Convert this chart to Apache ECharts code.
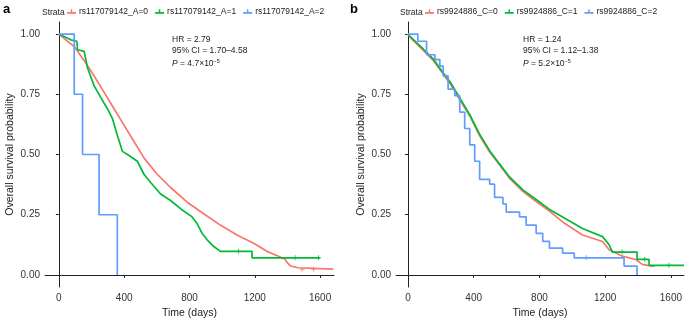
<!DOCTYPE html>
<html>
<head>
<meta charset="utf-8">
<script src="https://cdn.jsdelivr.net/npm/echarts@6/dist/echarts.min.js"></script>
<style>
  html, body { margin: 0; padding: 0; background: #fff; }
  #chart { width: 685px; height: 324px; }
</style>
</head>
<body>
<div id="chart"></div>
<script>
// panel a : rs117079142
var aNames = ['rs117079142_A=0', 'rs117079142_A=1', 'rs117079142_A=2'];
var aT0 = [0, 12, 94, 165, 216, 277, 338, 399, 460, 521, 602, 684, 786, 887, 989, 1091, 1193, 1274, 1345, 1385, 1400, 1420, 1465, 1475, 1680];
var aS0 = [1.00, 0.996, 0.948, 0.88, 0.826, 0.758, 0.69, 0.622, 0.554, 0.486, 0.418, 0.363, 0.302, 0.254, 0.207, 0.166, 0.132, 0.098, 0.078, 0.065, 0.05, 0.037, 0.03, 0.024, 0.024];
var aT1 = [0, 73, 110, 114, 155, 175, 216, 256, 297, 328, 358, 389, 420, 481, 521, 562, 623, 684, 745, 816, 847, 877, 908, 949, 989, 1183, 1183, 1600];
var aS1 = [1.00, 0.976, 0.97, 0.935, 0.928, 0.86, 0.785, 0.737, 0.69, 0.649, 0.58, 0.513, 0.50, 0.472, 0.418, 0.384, 0.336, 0.309, 0.275, 0.241, 0.213, 0.173, 0.146, 0.118, 0.098, 0.098, 0.071, 0.071];
var aT2 = [0, 94, 145, 246, 358];
var aS2 = [1.00, 0.75, 0.50, 0.25, 0.00];
// censored marks visible on the flat parts
var aCensT0 = [1490, 1560];
var aCensS0 = [0.024, 0.024];
var aCensT1 = [1100, 1447, 1590];
var aCensS1 = [0.098, 0.071, 0.071];

// panel b : rs9924886
var bNames = ['rs9924886_C=0', 'rs9924886_C=1', 'rs9924886_C=2'];
var bT0 = [0, 12, 93, 153, 204, 255, 315, 376, 436, 497, 558, 618, 699, 780, 861, 941, 1062, 1184, 1224, 1265, 1305, 1386, 1426, 1485, 1500];
var bS0 = [1.00, 0.987, 0.932, 0.891, 0.843, 0.795, 0.727, 0.66, 0.578, 0.51, 0.456, 0.401, 0.347, 0.305, 0.265, 0.22, 0.166, 0.139, 0.105, 0.091, 0.078, 0.064, 0.044, 0.037, 0.037];
var bT1 = [0, 12, 93, 153, 204, 255, 315, 376, 436, 497, 558, 618, 699, 780, 861, 941, 1062, 1184, 1224, 1244, 1394, 1394, 1467, 1467, 1680];
var bS1 = [1.00, 0.99, 0.938, 0.897, 0.849, 0.803, 0.735, 0.665, 0.584, 0.516, 0.46, 0.407, 0.353, 0.313, 0.272, 0.241, 0.193, 0.159, 0.125, 0.095, 0.095, 0.065, 0.065, 0.04, 0.04];
var bT2 = [0, 60, 113, 164, 194, 214, 244, 285, 315, 345, 376, 406, 436, 497, 527, 578, 598, 679, 719, 780, 820, 861, 941, 1012, 1315, 1394];
var bS2 = [1.00, 0.97, 0.914, 0.894, 0.867, 0.826, 0.771, 0.744, 0.676, 0.608, 0.54, 0.472, 0.397, 0.377, 0.322, 0.295, 0.261, 0.241, 0.207, 0.173, 0.139, 0.111, 0.091, 0.071, 0.037, 0.00];
var bCensT1 = [1303, 1440, 1588];
var bCensS1 = [0.095, 0.065, 0.04];
var bCensT2 = [1085];
var bCensS2 = [0.071];

var xTicks = [0, 400, 800, 1200, 1600];
var yTicks = [0, 0.25, 0.5, 0.75, 1];
var colors = ['#F8766D', '#00BA38', '#619CFF'];
var font = 'Liberation Sans';

function pairs(t, s) {
    var out = [];
    for (var i = 0; i < t.length; i++) out.push([t[i], s[i]]);
    return out;
}

function xAxisFor(idx, min, max) {
    return {
        gridIndex: idx, type: 'value', min: min, max: max,
        name: 'Time (days)', nameLocation: 'middle', nameGap: 21,
        nameTextStyle: { color: '#222', fontSize: 10.5, fontFamily: font },
        axisLine: { show: true, lineStyle: { color: '#222', width: 1 } },
        axisTick: { show: true, length: 3, lineStyle: { color: '#222' }, customValues: xTicks },
        axisLabel: { color: '#333', fontSize: 10, fontFamily: font, margin: 6, customValues: xTicks,
            formatter: function (v) { return String(v); } },
        splitLine: { show: false }
    };
}

function yAxisFor(idx) {
    return {
        gridIndex: idx, type: 'value', min: -0.05, max: 1.05,
        name: 'Overall survival probability', nameLocation: 'middle', nameGap: 29,
        nameTextStyle: { color: '#222', fontSize: 10.5, fontFamily: font },
        axisLine: { show: true, lineStyle: { color: '#222', width: 1 } },
        axisTick: { show: true, length: 3, lineStyle: { color: '#222' }, customValues: yTicks },
        axisLabel: { color: '#333', fontSize: 10, fontFamily: font, margin: 5, customValues: yTicks,
            formatter: function (v) { return v.toFixed(2); } },
        splitLine: { show: false }
    };
}

function km(name, idx, t, s, color, step) {
    return {
        name: name, type: 'line', xAxisIndex: idx, yAxisIndex: idx,
        step: step, symbol: 'none', data: pairs(t, s),
        lineStyle: { color: color, width: 1.7 }, itemStyle: { color: color },
        animation: false
    };
}

var plus = 'path://M4,0H6V10H4Z M0,4H10V6H0Z';
function cens(name, idx, t, s, color) {
    return {
        name: name, type: 'scatter', xAxisIndex: idx, yAxisIndex: idx,
        symbol: plus, symbolSize: 5, data: pairs(t, s),
        itemStyle: { color: color }, silent: true, animation: false
    };
}

var legendIcon = 'path://M0,4H10V6H0Z M4.2,1H5.8V6H4.2Z';
function legendFor(names, left) {
    return {
        left: left, top: 2, itemWidth: 9, itemHeight: 6, itemGap: 7,
        icon: legendIcon, data: names,
        textStyle: { color: '#222', fontSize: 8.5, fontFamily: font, padding: [0, 0, 0, -2] }
    };
}

function statText(x, hr, ci, p) {
    var st = { fontSize: 8.5, fontFamily: font, fill: '#222' };
    return [
        { type: 'text', left: x, top: 35, style: Object.assign({ text: 'HR = ' + hr }, st) },
        { type: 'text', left: x, top: 46, style: Object.assign({ text: '95% CI = ' + ci }, st) },
        { type: 'text', left: x, top: 58, style: {
            text: '{i|P} = ' + p + '{s|−5}', fontSize: 8.5, fontFamily: font, fill: '#222',
            rich: { i: { fontStyle: 'italic', fontSize: 8.5, fontFamily: font },
                    s: { fontSize: 5.5, verticalAlign: 'top', padding: [0, 0, 5, 0], fontFamily: font } } } }
    ];
}

var chart = echarts.init(document.getElementById('chart'), null, { renderer: 'canvas' });
var option = {
    backgroundColor: '#fff',
    animation: false,
    grid: [
        { left: 45, top: 22, width: 289, height: 270 },
        { left: 396, top: 22, width: 289, height: 270 }
    ],
    xAxis: [xAxisFor(0, -85, 1685), xAxisFor(1, -73, 1680)],
    yAxis: [yAxisFor(0), yAxisFor(1)],
    legend: [legendFor(aNames, 62), legendFor(bNames, 420)],
    graphic: [
        { type: 'text', left: 3, top: 3, style: { text: 'a', fontSize: 13, fontWeight: 'bold', fontFamily: font, fill: '#000' } },
        { type: 'text', left: 350, top: 3, style: { text: 'b', fontSize: 13, fontWeight: 'bold', fontFamily: font, fill: '#000' } },
        { type: 'text', left: 42, top: 8, style: { text: 'Strata', fontSize: 8.5, fontFamily: font, fill: '#222' } },
        { type: 'text', left: 400, top: 8, style: { text: 'Strata', fontSize: 8.5, fontFamily: font, fill: '#222' } }
    ].concat(statText(172, '2.79', '1.70–4.58', '4.7×10'), statText(523, '1.24', '1.12–1.38', '5.2×10')),
    series: [
        km(aNames[0], 0, aT0, aS0, colors[0], false),
        km(aNames[1], 0, aT1, aS1, colors[1], false),
        km(aNames[2], 0, aT2, aS2, colors[2], 'end'),
        cens(aNames[0], 0, aCensT0, aCensS0, colors[0]),
        cens(aNames[1], 0, aCensT1, aCensS1, colors[1]),
        km(bNames[0], 1, bT0, bS0, colors[0], false),
        km(bNames[1], 1, bT1, bS1, colors[1], false),
        km(bNames[2], 1, bT2, bS2, colors[2], 'end'),
        cens(bNames[1], 1, bCensT1, bCensS1, colors[1]),
        cens(bNames[2], 1, bCensT2, bCensS2, colors[2])
    ]
};
chart.setOption(option);
</script>
</body>
</html>
